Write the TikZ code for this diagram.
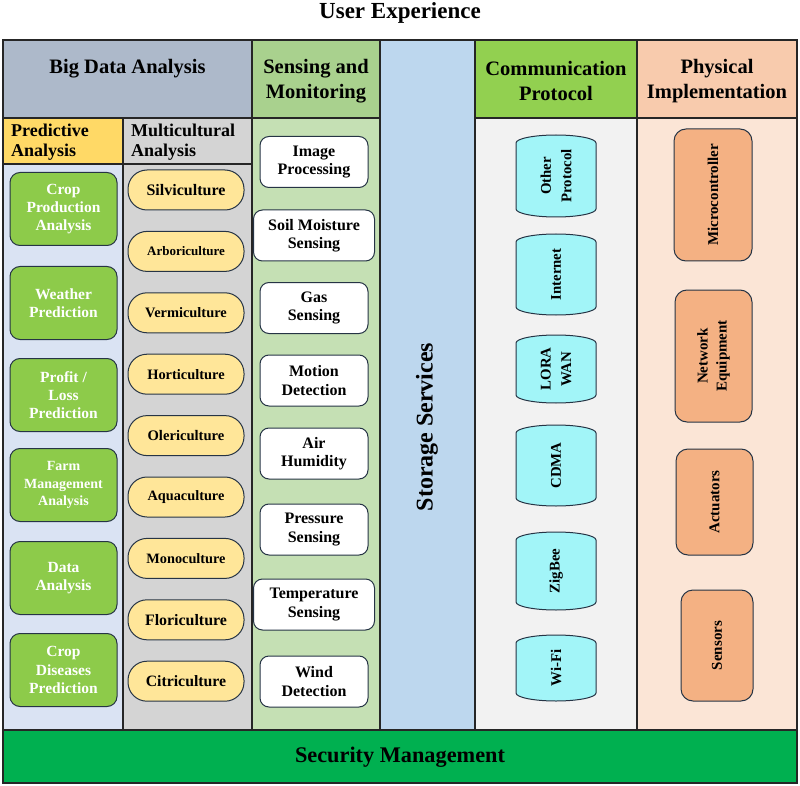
\documentclass[tikz,border=0pt]{standalone}
\usepackage{fontspec}
\setmainfont{Liberation Serif}
\usepackage{xcolor}
\usepackage{tikz}

\definecolor{bigdatahead}{HTML}{ADB9CA}
\definecolor{sensehead}{HTML}{A9D18E}
\definecolor{sensebody}{HTML}{C5E0B4}
\definecolor{storage}{HTML}{BDD7EE}
\definecolor{commhead}{HTML}{92D050}
\definecolor{commbody}{HTML}{F2F2F2}
\definecolor{physhead}{HTML}{F8CBAD}
\definecolor{physbody}{HTML}{FBE5D6}
\definecolor{predhead}{HTML}{FFD966}
\definecolor{predbody}{HTML}{DAE3F3}
\definecolor{cultgray}{HTML}{D4D4D4}
\definecolor{predgreen}{HTML}{8DCB4A}
\definecolor{cultyellow}{HTML}{FFE699}
\definecolor{protocyan}{HTML}{A2F5F8}
\definecolor{physorange}{HTML}{F4B183}
\definecolor{security}{HTML}{00B050}
\definecolor{boxline}{HTML}{263445}

\tikzset{
  lane/.style={draw=black!85, line width=1.3pt},
  headtext/.style={align=center, inner sep=0pt, font=\fontsize{20.5}{24.5}\selectfont\bfseries},
  subtext/.style={align=left, anchor=west, inner sep=0pt, font=\fontsize{18}{20}\selectfont\bfseries},
  predbox/.style={draw=boxline, line width=1pt, fill=predgreen, rounded corners=10pt,
    minimum width=107pt, minimum height=73pt, inner sep=0pt, align=center, text=white,
    font=\fontsize{15.5}{18.3}\selectfont\bfseries},
  cultbox/.style={draw=boxline, line width=1pt, fill=cultyellow, rounded corners=19pt,
    minimum width=116pt, minimum height=40pt, inner sep=0pt},
  sensebox/.style={draw=boxline, line width=1pt, fill=white, rounded corners=9pt,
    minimum height=51pt, inner sep=0pt, align=center,
    font=\fontsize{16}{18.3}\selectfont\bfseries},
  protoshape/.style={draw=boxline, line width=1pt, fill=protocyan},
  prototext/.style={rotate=90, inner sep=0pt, align=center,
    font=\fontsize{14.8}{20.5}\selectfont\bfseries},
  physbox/.style={draw=boxline, line width=1pt, fill=physorange, rounded corners=12pt,
    rotate=90, inner sep=0pt, align=center, font=\fontsize{15}{19}\selectfont\bfseries}
}

\begin{document}
\begin{tikzpicture}[x=1pt, y=-1pt]
\useasboundingbox (0,0) rectangle (800,786);

% column backgrounds
\fill[bigdatahead] (3,40) rectangle (252,118);
\fill[sensehead] (252,40) rectangle (380,118);
\fill[storage] (380,40) rectangle (475,730);
\fill[commhead] (475,40) rectangle (637,118);
\fill[physhead] (637,40) rectangle (797,118);
\fill[predhead] (3,118) rectangle (123,164);
\fill[cultgray] (123,118) rectangle (252,730);
\fill[predbody] (3,164) rectangle (123,730);
\fill[sensebody] (252,118) rectangle (380,730);
\fill[commbody] (475,118) rectangle (637,730);
\fill[physbody] (637,118) rectangle (797,730);
\fill[security] (3,730) rectangle (797,783);

% grid lines
\draw[lane] (3,118) -- (380,118);
\draw[lane] (475,118) -- (797,118);
\draw[lane] (3,164) -- (252,164);
\draw[lane] (123,118) -- (123,730);
\draw[lane] (252,40) -- (252,730);
\draw[lane] (380,40) -- (380,730);
\draw[lane] (475,40) -- (475,730);
\draw[lane] (637,40) -- (637,730);
\draw[lane] (3,730) -- (797,730);
\draw[lane] (3,40) rectangle (797,783);

% titles
\node[anchor=base, inner sep=0pt, font=\fontsize{23}{26}\selectfont\bfseries] (ux) at (400,19) {User Experience};
\node[headtext, anchor=base] (bigdata) at (127.5,74) {Big Data Analysis};
\node[headtext] (sensing) at (316,81) {Sensing and\\Monitoring};
\node[headtext] (comm) at (556,81) {Communication\\Protocol};
\node[headtext] (phys) at (717,81) {Physical\\Implementation};
\node[subtext] (predictive) at (11,142.5) {Predictive\\Analysis};
\node[subtext] (multicult) at (131,142.5) {Multicultural\\Analysis};
\node[rotate=90, inner sep=0pt, font=\fontsize{24}{28}\selectfont\bfseries] (storage) at (427,427) {Storage Services};
\node[inner sep=0pt, font=\fontsize{22.3}{26}\selectfont\bfseries] (secure) at (400,757) {Security Management};

% predictive analysis
\node[predbox] (crop) at (63.5,209) {Crop\\Production\\Analysis};
\node[predbox] (weather) at (63.5,303) {Weather\\Prediction};
\node[predbox] (profit) at (63.5,395) {Profit /\\Loss\\Prediction};
\node[predbox, font=\fontsize{14}{17.5}\selectfont\bfseries] (farm) at (63.5,485) {Farm\\Management\\Analysis};
\node[predbox] (data) at (63.5,578) {Data\\Analysis};
\node[predbox] (disease) at (63.5,670) {Crop\\Diseases\\Prediction};

% multicultural analysis
\foreach \name/\txt/\fs [count=\i from 0] in {silvi/Silviculture/16, arbori/Arboriculture/13,
    vermi/Vermiculture/14.4, horti/Horticulture/14.4, oleri/Olericulture/14.6,
    aqua/Aquaculture/14.3, mono/Monoculture/14.3, flori/Floriculture/15.9, citri/Citriculture/15.8}
  \node[cultbox, font=\fontsize{\fs}{18}\selectfont\bfseries] (\name) at (186,190+61.4*\i) {\txt};

% sensing and monitoring
\foreach \name/\y/\w/\txt in {image/162/108/{Image\\Processing}, soil/235.5/121/{Soil Moisture\\Sensing},
    gas/308/108/{Gas\\Sensing}, motion/380.5/108/{Motion\\Detection}, humid/453.5/108/{Air\\Humidity},
    press/529.5/108/{Pressure\\Sensing}, temp/604.5/121/{Temperature\\Sensing}, wind/681.5/108/{Wind\\Detection}}
  \node[sensebox, minimum width=\w pt] (\name) at (314,\y) {\txt};

% communication protocol (drum outline, then label)
\foreach \name/\y/\h/\txt in {other/176/82/{Other\\Protocol}, internet/274.5/81/{Internet},
    lora/369/68/{LORA\\WAN}, cdma/465.5/81/{CDMA}, zigbee/571/78/{ZigBee}, wifi/668/66/{Wi-Fi}} {
  \filldraw[protoshape] (516,\y-\h/2+8) arc[start angle=180, end angle=360, x radius=40, y radius=8]
    -- (596,\y+\h/2-8) arc[start angle=0, end angle=180, x radius=40, y radius=8] -- cycle;
  \node[prototext] (\name) at (556,\y) {\txt};
}

% physical implementation
\node[physbox, minimum width=132pt, minimum height=78pt] (micro) at (713,195) {Microcontroller};
\node[physbox, minimum width=132pt, minimum height=77pt] (netequip) at (713.5,356) {Network\\Equipment};
\node[physbox, minimum width=106pt, minimum height=77pt] (actuator) at (714.5,502) {Actuators};
\node[physbox, minimum width=111pt, minimum height=72pt] (sensor) at (717,645.5) {Sensors};

\end{tikzpicture}
\end{document}
